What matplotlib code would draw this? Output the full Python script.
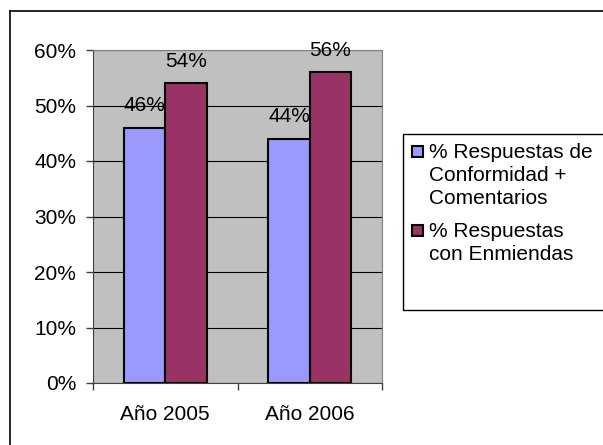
import numpy as np
import matplotlib.pyplot as plt
from matplotlib.patches import Rectangle
from matplotlib.lines import Line2D

plt.rcParams['font.family'] = ['Liberation Sans', 'DejaVu Sans']

# -------- DATA --------
years = ["Año 2005", "Año 2006"]
conformidad = [46, 44]
enmiendas = [54, 56]
series_labels = ["% Respuestas de\nConformidad +\nComentarios", "% Respuestas\ncon Enmiendas"]
colors = ["#9999FF", "#993366"]

FS = 15

fig = plt.figure(figsize=(6.03, 4.45), dpi=100)
ax = fig.add_axes([93/603, 62/445, 289/603, 333/445])
ax.set_facecolor("#C0C0C0")

x = np.arange(len(years))
w = 1 / 3.5
b1 = ax.bar(x - w/2, conformidad, w, color=colors[0], edgecolor="black", linewidth=1.5, zorder=3)
b2 = ax.bar(x + w/2, enmiendas, w, color=colors[1], edgecolor="black", linewidth=1.5, zorder=3)
for bars in (b1, b2):
    ax.bar_label(bars, labels=[f"{v}%" for v in bars.datavalues], padding=9, fontsize=FS, zorder=4)

ax.set_xlim(-0.5, 1.5)
ax.set_ylim(0, 60)
ax.set_yticks(range(0, 61, 10))
ax.set_yticklabels([f"{v}%" for v in range(0, 61, 10)], fontsize=FS)
ax.yaxis.grid(True, color="black", linewidth=0.8, zorder=1)
ax.set_axisbelow(True)
ax.tick_params(axis="y", length=5, width=1, pad=7, color="#404040")

ax.set_xticks(x)
ax.set_xticklabels(years, fontsize=FS)
ax.set_xticks([-0.5, 0.5, 1.5], minor=True)
ax.tick_params(axis="x", which="major", length=0, pad=16)
ax.tick_params(axis="x", which="minor", length=5, width=1, color="#404040")

for s in ["top", "right"]:
    ax.spines[s].set_color("#808080")
for s in ["left", "bottom"]:
    ax.spines[s].set_color("#404040")

# -------- LEGEND --------
W, H = 603, 445
fig.add_artist(Rectangle((403/W, 1 - 310/H), 210/W, 176/H, transform=fig.transFigure,
                         facecolor="white", edgecolor="black", linewidth=1))
centers = [151, 230]
for lab, c, cy in zip(series_labels, colors, centers):
    fig.add_artist(Rectangle((412/W, 1 - (cy + 6)/H), 11/W, 11/H, transform=fig.transFigure,
                             facecolor=c, edgecolor="black", linewidth=1.5))
    fig.text(429/W, 1 - (cy - 8)/H, lab, fontsize=FS, va="top", ha="left", linespacing=1.25)

# outer frame (top and left only visible)
fig.add_artist(Line2D([10/W, 1], [1 - 11/H, 1 - 11/H], transform=fig.transFigure, color="black", linewidth=1.2))
fig.add_artist(Line2D([10/W, 10/W], [0, 1 - 11/H], transform=fig.transFigure, color="black", linewidth=1.2))

fig.savefig("out.png", dpi=100)
